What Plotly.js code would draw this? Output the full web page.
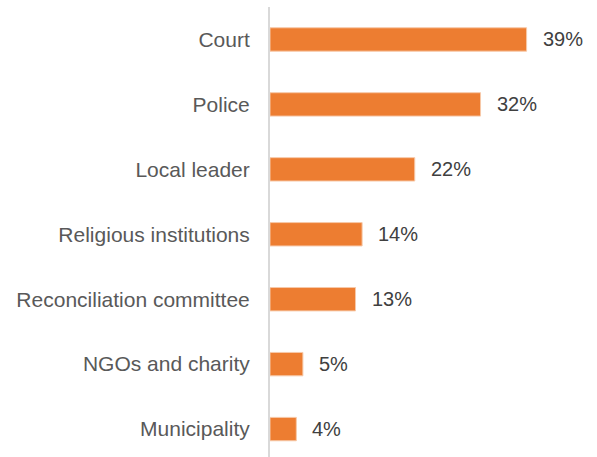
<!DOCTYPE html>
<html>
<head>
<meta charset="utf-8">
<script src="https://cdn.plot.ly/plotly-3.0.1.min.js"></script>
<style>html,body{margin:0;padding:0;background:#fff;}#chart{width:597px;height:457px;}</style>
</head>
<body>
<div id="chart"></div>
<script>
const categories = ["Court", "Police", "Local leader", "Religious institutions", "Reconciliation committee", "NGOs and charity", "Municipality"];
const values = [39, 32, 22, 14, 13, 5, 4];
const labels = values.map(v => v + "%");

const FONT = "'Liberation Sans', Arial, sans-serif";

const trace = {
  type: "bar",
  orientation: "h",
  y: categories,
  x: values,
  marker: {color: "#ED7D31", line: {color: "#F7C9A9", width: 1}},
  hoverinfo: "none"
};

const annotations = values.map((v, i) => ({
  x: v, y: categories[i], xref: "x", yref: "y",
  text: labels[i], showarrow: false, xanchor: "left", xshift: 14,
  font: {family: FONT, size: 20, color: "#404040"}
}));

const layout = {
  width: 597, height: 457,
  margin: {l: 270, r: 0, t: 7, b: 0},
  paper_bgcolor: "#fff", plot_bgcolor: "#fff",
  showlegend: false,
  bargap: 0.64,
  font: {family: FONT, size: 20, color: "#595959"},
  xaxis: {range: [0, 49.7], showgrid: false, zeroline: false, showticklabels: false, showline: false, fixedrange: true},
  yaxis: {type: "category", range: [6.43, -0.5], showgrid: false, zeroline: false, showline: true, linecolor: "#D9D9D9", linewidth: 2, ticks: "", ticklabelstandoff: 14, tickfont: {family: FONT, size: 21, color: "#595959"}},
  annotations: annotations
};

Plotly.newPlot("chart", [trace], layout, {staticPlot: true});
</script>
</body>
</html>
